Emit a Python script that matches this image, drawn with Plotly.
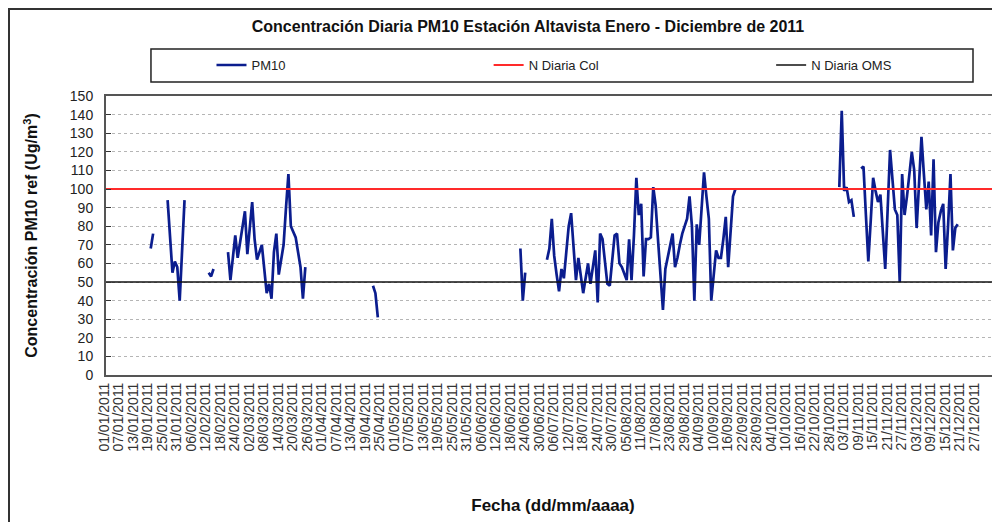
import pandas as pd
import plotly.graph_objects as go

# PM10 diario (ug/m3); cada tramo continuo con su fecha de inicio
inicio_a = "2011-01-19"
pm10_a = [68, 76]
inicio_b = "2011-01-26"
pm10_b = [94, 74, 55, 61, 58, 40, 67, 94]
inicio_c = "2011-02-12"
pm10_c = [55, 53, 57]
inicio_d = "2011-02-20"
pm10_d = [66, 51, 63, 75, 63, 72, 80, 88, 65, 80, 93, 73, 62, 66, 70, 57, 44,
          49, 41, 66, 76, 54, 62, 70, 90, 108, 80, 77, 74, 66, 58, 41, 58]
inicio_e = "2011-04-21"
pm10_e = [48, 44, 31]
inicio_f = "2011-06-21"
pm10_f = [68, 40, 55]
inicio_g = "2011-07-02"
pm10_g = [62, 68, 84, 64, 54, 45, 57, 52, 66, 80, 87, 69, 51, 63, 54, 44, 52,
          60, 49, 58, 67, 39, 76, 73, 61, 49, 48, 62, 75, 76, 60, 58, 55, 51,
          73, 51, 75, 106, 86, 92, 53, 73, 73, 74, 101, 91, 72, 54, 35, 57, 64,
          70, 76, 58, 63, 70, 76, 80, 84, 96, 80, 40, 81, 70, 90, 109, 96, 84,
          40, 55, 67, 63, 63, 73, 85, 58, 77, 96, 100]
inicio_h = "2011-10-31"
pm10_h = [101, 142, 99, 101, 93, 94, 85]
inicio_i = "2011-11-09"
pm10_i = [111, 112, 86, 61, 83, 106, 99, 93, 97, 77, 57, 89, 121, 105, 89, 86,
          50, 108, 86, 96, 108, 120, 110, 79, 103, 128, 108, 89, 104, 75, 116,
          66, 82, 88, 92, 57, 80, 108, 67, 79, 81]

norma_col = 100   # N Diaria Col
norma_oms = 50    # N Diaria OMS

tick_fechas = pd.date_range("2011-01-01", "2011-12-27", freq="6D")
tick_textos = [f.strftime("%d/%m/%Y") for f in tick_fechas]

x_ini = "2010-12-31 12:00"
x_fin = "2012-01-05 12:00"

# serie diaria completa, con huecos donde no hay dato
dias = pd.date_range("2011-01-01", "2011-12-31", freq="D")
serie = pd.Series(index=dias, dtype=float)
for ini, vals in [(inicio_a, pm10_a), (inicio_b, pm10_b), (inicio_c, pm10_c),
                  (inicio_d, pm10_d), (inicio_e, pm10_e), (inicio_f, pm10_f),
                  (inicio_g, pm10_g), (inicio_h, pm10_h), (inicio_i, pm10_i)]:
    serie[pd.date_range(ini, periods=len(vals), freq="D")] = vals

fuente = "Liberation Sans, Arial, sans-serif"

fig = go.Figure()
fig.add_trace(go.Scatter(x=serie.index, y=serie.values, name="PM10", mode="lines",
                         line=dict(color="#0b1d8e", width=2.7), connectgaps=False,
                         legend="legend"))
fig.add_trace(go.Scatter(x=[x_ini, x_fin], y=[norma_col, norma_col], name="N Diaria Col",
                         mode="lines", line=dict(color="#ff2a2a", width=2), legend="legend2"))
fig.add_trace(go.Scatter(x=[x_ini, x_fin], y=[norma_oms, norma_oms], name="N Diaria OMS",
                         mode="lines", line=dict(color="#111111", width=1.5), legend="legend3"))

ley = dict(orientation="h", xanchor="left", y=1.111, yanchor="middle",
           bgcolor="rgba(0,0,0,0)", font=dict(size=13, color="#222"))

fig.update_layout(
    width=1000, height=522,
    margin=dict(l=98, r=8, t=88, b=155),
    paper_bgcolor="white", plot_bgcolor="white",
    font=dict(family=fuente, color="#111"),
    title=dict(text="<b>Concentración Diaria PM10 Estación Altavista Enero - Diciembre de 2011</b>",
               x=0.52, xanchor="center", y=0.965, yanchor="middle",
               font=dict(size=16, color="#111")),
    showlegend=True,
    legend=dict(ley, x=0.118),
    legend2=dict(ley, x=0.428),
    legend3=dict(ley, x=0.744),
)

fig.update_xaxes(type="date", range=[x_ini, x_fin], automargin=False,
                 tickvals=tick_fechas, ticktext=tick_textos, tickangle=-90,
                 ticklabelshift=-3,
                 tickfont=dict(size=14, color="#333"), showgrid=False,
                 showline=True, mirror=True, linecolor="#555", linewidth=2,
                 title=dict(text="<b>Fecha (dd/mm/aaaa)</b>", font=dict(size=17), standoff=48))

fig.update_yaxes(range=[0, 150], dtick=10, ticks="inside", ticklen=5, tickcolor="#333",
                 automargin=False, tickfont=dict(size=14, color="#222"), ticklabelstandoff=8,
                 showgrid=True, gridcolor="#b5b5b5", griddash="dot", gridwidth=1,
                 zeroline=False, showline=True, mirror=True, linecolor="#555", linewidth=2,
                 title=dict(text="<b>Concentración PM10 ref (Ug/m<sup>3</sup>)</b>",
                            font=dict(size=16), standoff=28))

# marco exterior del grafico y recuadro de la leyenda
fig.add_shape(type="rect", xref="paper", yref="paper", x0=-0.1085, x1=1.02, y0=-0.6, y1=1.3118,
              line=dict(color="#333", width=2))
fig.add_shape(type="rect", xref="paper", yref="paper", x0=0.0503, x1=0.9698, y0=1.0502, y1=1.1685,
              line=dict(color="#222", width=1.5))

fig.write_html("out.html")
